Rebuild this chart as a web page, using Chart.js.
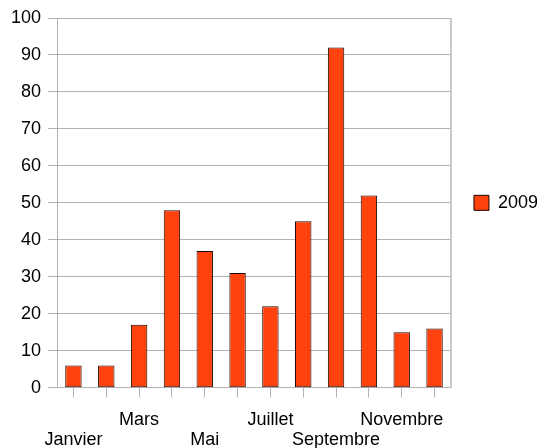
<!DOCTYPE html>
<html>
<head>
<meta charset="utf-8">
<script src="https://cdn.jsdelivr.net/npm/chart.js@4"></script>
<style>
html,body{margin:0;padding:0;background:#fff;}
#wrap{width:537px;height:448px;position:relative;}
</style>
</head>
<body>
<div id="wrap"><canvas id="c" width="537" height="448"></canvas></div>
<script>
const months = ['Janvier','Février','Mars','Avril','Mai','Juin','Juillet','Août','Septembre','Octobre','Novembre','Décembre'];
const seriesName = '2009';
const values2009 = [6, 6, 17, 48, 37, 31, 22, 45, 92, 52, 15, 16];
const yTicks = [0,10,20,30,40,50,60,70,80,90,100];

const FONT = "'Liberation Sans', Arial, sans-serif";
Chart.defaults.font.family = FONT;
Chart.defaults.font.size = 18;
Chart.defaults.color = '#000';

const frame = {
  id: 'frame',
  afterDatasetsDraw(chart) {
    const a = chart.chartArea, ctx = chart.ctx;
    ctx.save();
    ctx.strokeStyle = '#c8c8c8';
    ctx.lineWidth = 2;
    ctx.beginPath();
    ctx.moveTo(a.right, a.top);
    ctx.lineTo(a.right, a.bottom);
    ctx.stroke();
    ctx.restore();
  }
};

new Chart(document.getElementById('c'), {
  type: 'bar',
  data: {
    labels: months,
    datasets: [{
      label: seriesName,
      data: values2009,
      backgroundColor: '#ff420e',
      borderColor: '#1a0500',
      borderWidth: 1,
      borderSkipped: false,
      categoryPercentage: 1,
      barPercentage: 0.5
    }]
  },
  options: {
    responsive: false,
    animation: false,
    devicePixelRatio: 1,
    layout: { padding: { left: 4, top: 18, right: -11, bottom: -6 } },
    plugins: {
      legend: {
        position: 'right',
        fullSize: false,
        labels: {
          boxWidth: 15, boxHeight: 15, padding: 23,
          font: { size: 18, family: FONT }, color: '#000'
        }
      },
      tooltip: { enabled: false }
    },
    scales: {
      x: {
        afterFit: (s) => { s.height -= 8; },
        grid: { display: true, drawOnChartArea: false, offset: false, tickLength: 10, color: '#b3b3b3' },
        border: { display: true, color: '#b3b3b3' },
        ticks: {
          autoSkip: false, maxRotation: 0, minRotation: 0, padding: 12,
          font: { size: 18, family: FONT, lineHeight: 1.12 },
          callback: function(v, i) {
            const m = months[i];
            if (i % 4 === 0) return ['', m];
            if (i % 4 === 2) return m;
            return '';
          }
        }
      },
      y: {
        min: 0, max: 100,
        afterBuildTicks: (s) => { s.ticks = yTicks.map(v => ({ value: v })); },
        grid: { color: '#b3b3b3', tickLength: 9 },
        border: { display: true, color: '#b3b3b3' },
        ticks: { padding: 7, font: { size: 18, family: FONT } }
      }
    }
  },
  plugins: [frame]
});
</script>
</body>
</html>
